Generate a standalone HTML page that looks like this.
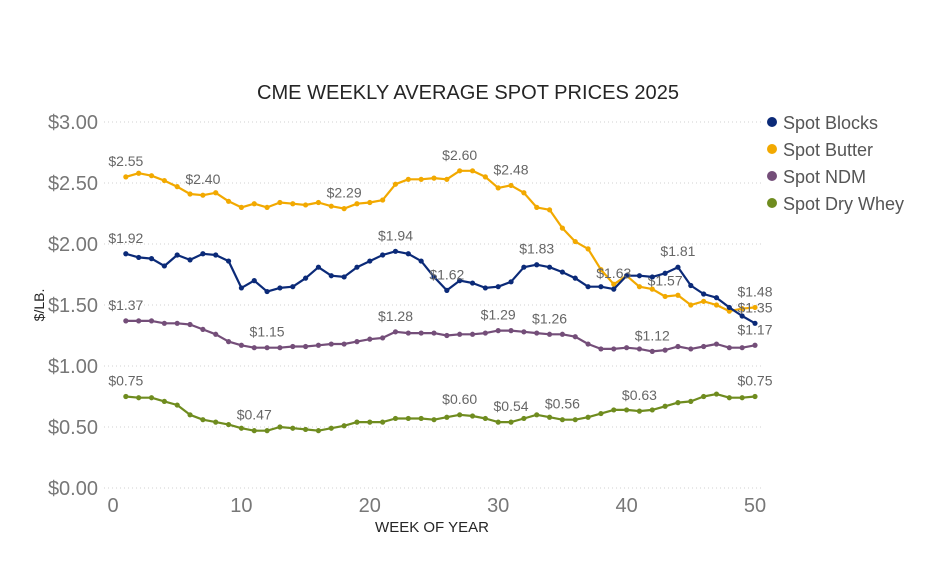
<!DOCTYPE html>
<html><head><meta charset="utf-8"><style>
body{margin:0;background:#fff;width:939px;height:556px;overflow:hidden;font-family:"Liberation Sans",sans-serif}
</style></head><body>
<svg id="chart" width="939" height="556" viewBox="0 0 939 556">
<text x="468" y="99" text-anchor="middle" font-size="20" fill="#252525" textLength="422" lengthAdjust="spacingAndGlyphs">CME WEEKLY AVERAGE SPOT PRICES 2025</text>
<g id="grid"></g>
<g id="yax"></g>
<g id="xax"></g>
<text transform="translate(44,305) rotate(-90)" text-anchor="middle" font-size="14" fill="#252525">$/LB.</text>
<text x="432" y="532" text-anchor="middle" font-size="15" fill="#252525">WEEK OF YEAR</text>
<g id="series"></g>
<g id="legend"></g>
</svg>
<script>
const weeks=[];for(let i=1;i<=50;i++)weeks.push(i);
const seriesNames=["Spot Blocks","Spot Butter","Spot NDM","Spot Dry Whey"];
const blocks=[1.92,1.89,1.88,1.82,1.91,1.87,1.92,1.91,1.86,1.64,1.70,1.61,1.64,1.65,1.72,1.81,1.74,1.73,1.81,1.86,1.91,1.94,1.92,1.86,1.73,1.62,1.70,1.68,1.64,1.65,1.69,1.81,1.83,1.81,1.77,1.72,1.65,1.65,1.63,1.74,1.74,1.73,1.76,1.81,1.66,1.59,1.56,1.48,1.41,1.35];
const butter=[2.55,2.58,2.56,2.52,2.47,2.41,2.40,2.42,2.35,2.30,2.33,2.30,2.34,2.33,2.32,2.34,2.31,2.29,2.33,2.34,2.36,2.49,2.53,2.53,2.54,2.53,2.60,2.60,2.55,2.46,2.48,2.42,2.30,2.28,2.13,2.02,1.96,1.79,1.67,1.74,1.65,1.63,1.57,1.58,1.50,1.53,1.50,1.45,1.47,1.48];
const ndm=[1.37,1.37,1.37,1.35,1.35,1.34,1.30,1.26,1.20,1.17,1.15,1.15,1.15,1.16,1.16,1.17,1.18,1.18,1.20,1.22,1.23,1.28,1.27,1.27,1.27,1.25,1.26,1.26,1.27,1.29,1.29,1.28,1.27,1.26,1.26,1.24,1.18,1.14,1.14,1.15,1.14,1.12,1.13,1.16,1.14,1.16,1.18,1.15,1.15,1.17];
const whey=[0.75,0.74,0.74,0.71,0.68,0.60,0.56,0.54,0.52,0.49,0.47,0.47,0.50,0.49,0.48,0.47,0.49,0.51,0.54,0.54,0.54,0.57,0.57,0.57,0.56,0.58,0.60,0.59,0.57,0.54,0.54,0.57,0.60,0.58,0.56,0.56,0.58,0.61,0.64,0.64,0.63,0.64,0.67,0.70,0.71,0.75,0.77,0.74,0.74,0.75];
const blocksLabelWeeks=[1,22,26,33,39,44,50];
const butterLabelWeeks=[1,7,18,27,31,43,50];
const ndmLabelWeeks=[1,12,22,30,34,42,50];
const wheyLabelWeeks=[1,11,27,31,35,41,50];
const yTicks=[0,0.5,1,1.5,2,2.5,3];
const yTickLabels=["$0.00","$0.50","$1.00","$1.50","$2.00","$2.50","$3.00"];
const xTicks=[0,10,20,30,40,50];

const NS="http://www.w3.org/2000/svg";
const x=w=>113+w*12.84;
const y=v=>488-v*122;
function mk(t,a,p){const e=document.createElementNS(NS,t);for(const k in a)e.setAttribute(k,a[k]);p.appendChild(e);return e;}
const grid=document.getElementById('grid'),yax=document.getElementById('yax'),xax=document.getElementById('xax');
yTicks.forEach((v,i)=>{
 const l=mk('line',{x1:104,x2:762,y1:y(v),y2:y(v),stroke:'#d0d0d0','stroke-dasharray':'1 3','stroke-width':1},grid);
 
 
 const t=mk('text',{x:98,y:y(v)+7,'text-anchor':'end','font-size':20,fill:'#777'},yax);
 t.textContent=yTickLabels[i];
 
 
});
xTicks.forEach(w=>{
 const t=mk('text',{x:x(w),y:512,'text-anchor':'middle','font-size':20,fill:'#777'},xax);
 t.textContent=w;
 
 
});
const sdata=[blocks,butter,ndm,whey];
const colors=["#0b2a78","#f2a900","#744e79","#6f8c1f"];
const labs=[blocksLabelWeeks,butterLabelWeeks,ndmLabelWeeks,wheyLabelWeeks];
const keys=["blocks","butter","ndm","whey"];
const order=[3,2,1,0];
const sg=document.getElementById('series');
order.forEach(s=>{
 const g=mk('g',{},sg);
 
 
 const d=sdata[s].map((v,i)=>(i?'L':'M')+x(weeks[i]).toFixed(1)+','+y(v).toFixed(1)).join('');
 const p=mk('path',{d:d,fill:'none',stroke:colors[s],'stroke-width':2.2,'stroke-linejoin':'round'},g);
 
 
 sdata[s].forEach((v,i)=>{
  const c=mk('circle',{cx:x(weeks[i]),cy:y(v),r:2.6,fill:colors[s]},g);
  
  
 });
 labs[s].forEach(w=>{
  const v=sdata[s][w-1];
  const t=mk('text',{x:x(w),y:y(v)-11,'text-anchor':'middle','font-size':14,fill:'#666'},g);
  t.textContent='$'+v.toFixed(2);
  
  
 });
});
const lg=document.getElementById('legend');
seriesNames.forEach((n,i)=>{
 const g=mk('g',{},lg);
 
 
 mk('circle',{cx:772,cy:122+i*27,r:5,fill:colors[i]},g);
 const t=mk('text',{x:783,y:129+i*27,'font-size':18,fill:'#555'},g);
 t.textContent=n;
});
</script>
</body></html>
